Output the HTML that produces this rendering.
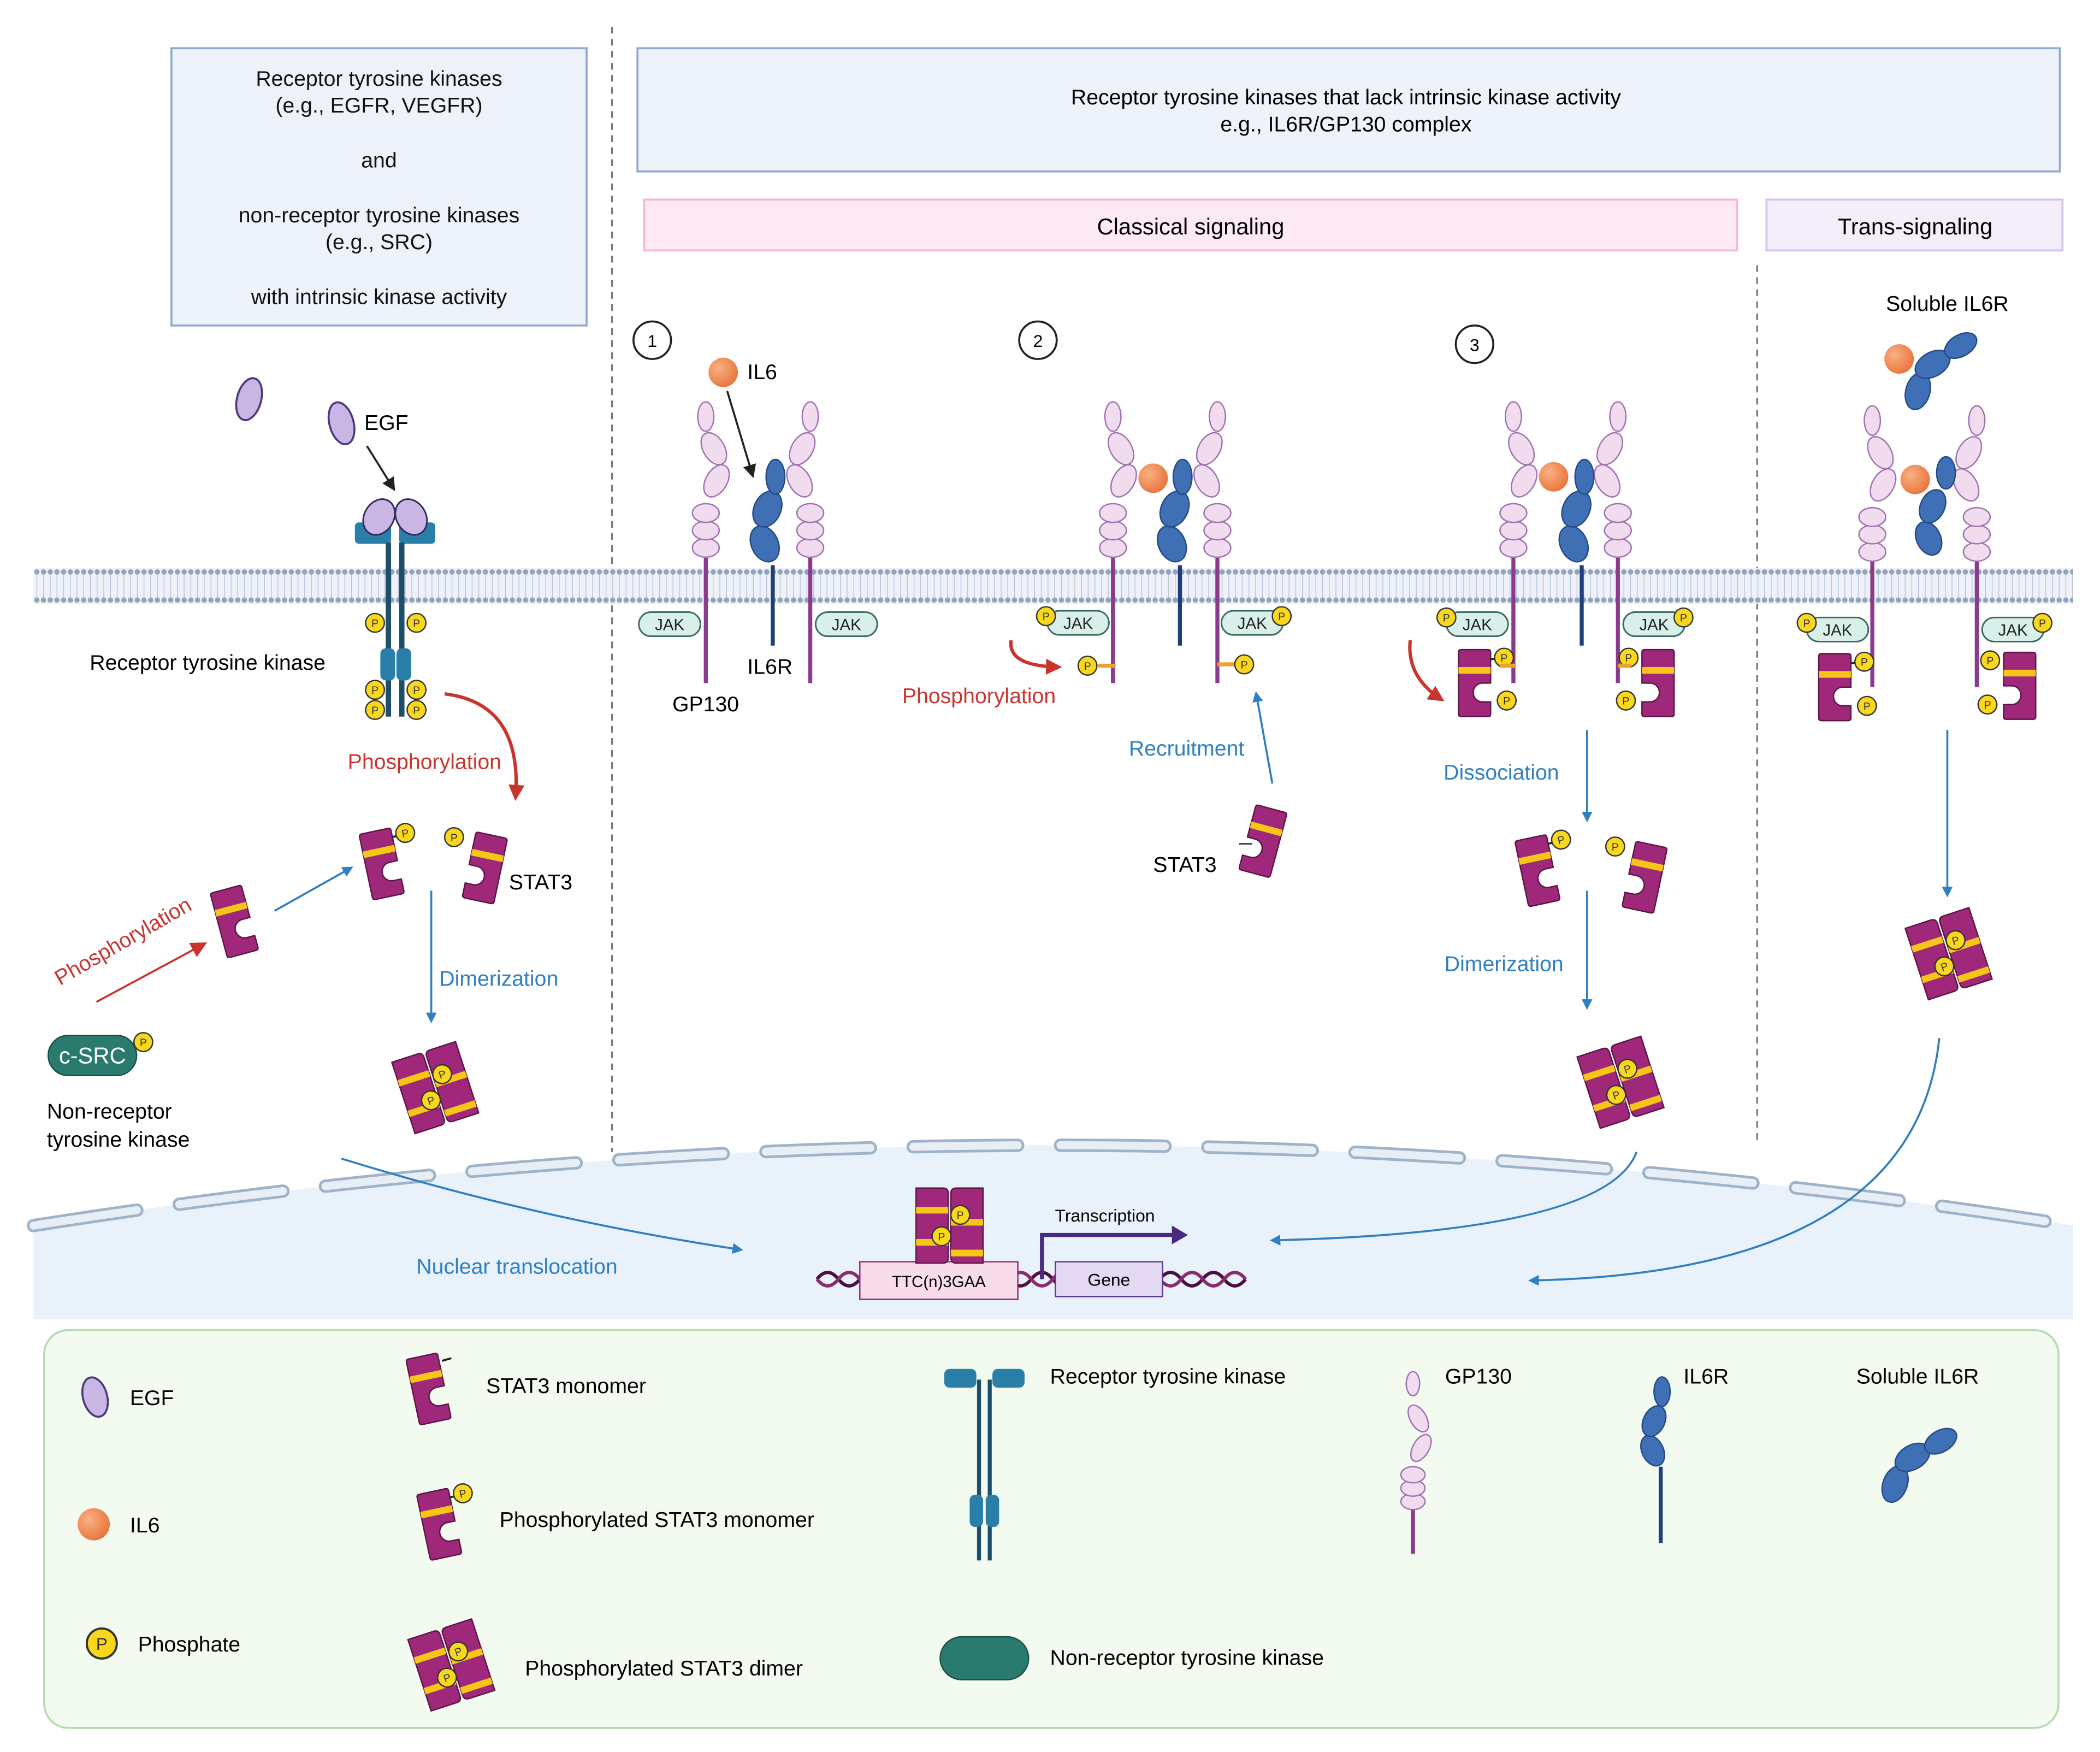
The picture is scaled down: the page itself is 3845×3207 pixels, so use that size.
<!DOCTYPE html>
<html><head><meta charset="utf-8"><style>
html,body{margin:0;padding:0;background:#fff}
svg{display:block}
text{font-family:"Liberation Sans",sans-serif}
</style></head><body>
<svg width="3845" height="3207" viewBox="0 0 1568 1308" preserveAspectRatio="none" xmlns="http://www.w3.org/2000/svg">
<defs>
<pattern id="mem" x="0" y="424" width="5" height="27" patternUnits="userSpaceOnUse">
<rect width="5" height="27" fill="#eef2f8"/>
<line x1="2.5" y1="4" x2="2.5" y2="23" stroke="#b8c6da" stroke-width="0.6"/>
<circle cx="2.5" cy="3" r="2" fill="#93a3bb"/><circle cx="2.5" cy="24" r="2" fill="#93a3bb"/>
</pattern>
<radialGradient id="il6g" cx="0.35" cy="0.35" r="0.7"><stop offset="0" stop-color="#f9b183"/><stop offset="1" stop-color="#e9743c"/></radialGradient>
<marker id="ab" markerWidth="8" markerHeight="8" refX="6" refY="4" orient="auto" markerUnits="userSpaceOnUse"><path d="M0,0 L8,4 L0,8 Z" fill="#2f7fc1"/></marker>
<marker id="ar" markerWidth="12" markerHeight="12" refX="9" refY="6" orient="auto" markerUnits="userSpaceOnUse"><path d="M0,0 L12,6 L0,12 Z" fill="#c8352e"/></marker>
<marker id="ak" markerWidth="10" markerHeight="10" refX="8" refY="5" orient="auto" markerUnits="userSpaceOnUse"><path d="M0,0 L10,5 L0,10 Z" fill="#222"/></marker>
<g id="P"><circle r="7" fill="#f9d71c" stroke="#333" stroke-width="1"/><text y="3" font-size="8" text-anchor="middle" fill="#333">P</text></g>
<g id="mono"><path d="M-10,-25 H10 Q12,-25 12,-23 V0 H6 A7,7 0 0 0 6,14 H12 V23 Q12,25 10,25 H-10 Q-12,25 -12,23 V-23 Q-12,-25 -10,-25 Z" fill="#a0287a" stroke="#5a1545" stroke-width="1"/><rect x="-12" y="-12" width="24" height="5" fill="#f5c518"/></g>
<g id="pmono"><use href="#mono"/><line x1="12" y1="-18" x2="18" y2="-18" stroke="#222" stroke-width="1.5"/><use href="#P" x="22" y="-19"/></g>
<g id="dimer"><g transform="translate(-13,0)"><path d="M-12,-28 H8 Q12,-28 12,-24 V24 Q12,28 8,28 H-12 Z" fill="#a0287a" stroke="#5a1545"/><rect x="-12" y="-14" width="24" height="5" fill="#f5c518"/><rect x="-12" y="10" width="24" height="5" fill="#f5c518"/></g><g transform="translate(13,0)"><path d="M12,-28 H-8 Q-12,-28 -12,-24 V24 Q-12,28 -8,28 H12 Z" fill="#a0287a" stroke="#5a1545"/><rect x="-12" y="-5" width="24" height="5" fill="#f5c518"/><rect x="-12" y="18" width="24" height="5" fill="#f5c518"/></g><use href="#P" x="8" y="-8"/><use href="#P" x="-6" y="8"/></g>
<g id="gp"><line x1="0" y1="0" x2="0" y2="95" stroke="#8b3a8e" stroke-width="3"/><g fill="#f0dcee" stroke="#a070b0" stroke-width="1"><ellipse cx="0" cy="-6" rx="10" ry="7"/><ellipse cx="0" cy="-19" rx="10" ry="7"/><ellipse cx="0" cy="-32" rx="10" ry="7"/></g></g>
<g id="gpL" fill="#f0dcee" stroke="#a070b0" stroke-width="1"><ellipse cx="8" cy="-56" rx="8" ry="13" transform="rotate(30 8 -56)"/><ellipse cx="6" cy="-80" rx="8" ry="13" transform="rotate(-30 6 -80)"/><ellipse cx="0" cy="-104" rx="6" ry="11"/></g>
<g id="gpR" fill="#f0dcee" stroke="#a070b0" stroke-width="1"><ellipse cx="-8" cy="-56" rx="8" ry="13" transform="rotate(-30 -8 -56)"/><ellipse cx="-6" cy="-80" rx="8" ry="13" transform="rotate(30 -6 -80)"/><ellipse cx="0" cy="-104" rx="6" ry="11"/></g>
<g id="il6r"><line x1="0" y1="0" x2="0" y2="60" stroke="#1f3f7a" stroke-width="3"/><g fill="#3f6fb5" stroke="#234a86" stroke-width="1"><ellipse cx="-6" cy="-16" rx="10" ry="14" transform="rotate(-25 -6 -16)"/><ellipse cx="-4" cy="-42" rx="10" ry="14" transform="rotate(25 -4 -42)"/><ellipse cx="2" cy="-66" rx="7" ry="13"/></g></g>
<g id="jak"><rect x="-23" y="-9" width="46" height="18" rx="9" fill="#d8efea" stroke="#3a6d63" stroke-width="1.2"/><text y="4.5" font-size="12" text-anchor="middle" fill="#222">JAK</text></g>
</defs>

<rect x="128" y="36" width="310" height="207" fill="#eef3fb" stroke="#8fa8d0" stroke-width="1.5"/>
<g font-size="16" text-anchor="middle" fill="#111">
<text x="283" y="64">Receptor tyrosine kinases</text><text x="283" y="84">(e.g., EGFR, VEGFR)</text>
<text x="283" y="125">and</text><text x="283" y="166">non-receptor tyrosine kinases</text><text x="283" y="186">(e.g., SRC)</text>
<text x="283" y="227">with intrinsic kinase activity</text>
</g>
<rect x="476" y="36" width="1062" height="92" fill="#eef3fb" stroke="#8fa8d0" stroke-width="1.5"/>
<text x="1005" y="78" font-size="16" text-anchor="middle">Receptor tyrosine kinases that lack intrinsic kinase activity</text>
<text x="1005" y="98" font-size="16" text-anchor="middle">e.g., IL6R/GP130 complex</text>
<rect x="481" y="149" width="816" height="38" fill="#fde9f3" stroke="#f2b8d5" stroke-width="1.5"/>
<text x="889" y="175" font-size="17" text-anchor="middle">Classical signaling</text>
<rect x="1319" y="149" width="221" height="38" fill="#f3eefa" stroke="#d3c3ea" stroke-width="1.5"/>
<text x="1430" y="175" font-size="17" text-anchor="middle">Trans-signaling</text>

<path d="M25,915 Q787,795 1548,915 L1548,985 L25,985 Z" fill="#e9f1fa"/>
<path d="M25,915 Q787,795 1548,915" fill="none" stroke="#9fb3c8" stroke-width="10" stroke-dasharray="78 32" stroke-linecap="round"/>
<path d="M25,915 Q787,795 1548,915" fill="none" stroke="#e8eef5" stroke-width="6" stroke-dasharray="78 32" stroke-linecap="round"/>

<line x1="457" y1="20" x2="457" y2="860" stroke="#777" stroke-width="1.3" stroke-dasharray="5 4"/>
<line x1="1312" y1="198" x2="1312" y2="852" stroke="#777" stroke-width="1.3" stroke-dasharray="5 4"/>

<rect x="25" y="424" width="1523" height="27" fill="url(#mem)"/>

<ellipse cx="186" cy="298" rx="9" ry="16" fill="#c9b6e4" stroke="#4a3a7a" stroke-width="1.5" transform="rotate(15 186 298)"/>
<ellipse cx="255" cy="316" rx="9" ry="16" fill="#c9b6e4" stroke="#4a3a7a" stroke-width="1.5" transform="rotate(-15 255 316)"/>
<text x="272" y="321" font-size="16">EGF</text>
<line x1="274" y1="333" x2="294" y2="365" stroke="#222" stroke-width="1.5" marker-end="url(#ak)"/>
<rect x="265" y="390" width="27" height="16" rx="3" fill="#2a7fa8"/><rect x="298" y="390" width="27" height="16" rx="3" fill="#2a7fa8"/>
<ellipse cx="283" cy="386" rx="11" ry="14" fill="#c9b6e4" stroke="#2e2a5a" stroke-width="1.2" transform="rotate(30 283 386)"/>
<ellipse cx="307" cy="386" rx="11" ry="14" fill="#c9b6e4" stroke="#2e2a5a" stroke-width="1.2" transform="rotate(-30 307 386)"/>
<line x1="290" y1="405" x2="290" y2="535" stroke="#1d4f6a" stroke-width="4"/><line x1="300" y1="405" x2="300" y2="535" stroke="#1d4f6a" stroke-width="4"/>
<rect x="284" y="484" width="11" height="24" rx="4" fill="#2a7fa8"/><rect x="296" y="484" width="11" height="24" rx="4" fill="#2a7fa8"/>
<use href="#P" x="280" y="465"/><use href="#P" x="311" y="465"/><use href="#P" x="280" y="515"/><use href="#P" x="311" y="515"/><use href="#P" x="280" y="530"/><use href="#P" x="311" y="530"/>
<text x="67" y="500" font-size="16">Receptor tyrosine kinase</text>
<path d="M332,518 Q390,525 385,595" fill="none" stroke="#c8352e" stroke-width="2.5" marker-end="url(#ar)"/>
<text x="317" y="574" font-size="16" fill="#c8352e" text-anchor="middle">Phosphorylation</text>
<use href="#pmono" transform="translate(285,645) rotate(-12)"/>
<use href="#mono" transform="translate(362,648) scale(-1,1) rotate(-12)"/><use href="#P" x="339" y="625"/>
<text x="380" y="664" font-size="16">STAT3</text>
<use href="#mono" transform="translate(175,688) rotate(-15)"/>
<line x1="205" y1="680" x2="262" y2="648" stroke="#2f7fc1" stroke-width="1.5" marker-end="url(#ab)"/>
<line x1="72" y1="748" x2="152" y2="705" stroke="#c8352e" stroke-width="1.5" marker-end="url(#ar)"/>
<text x="92" y="708" font-size="16" fill="#c8352e" text-anchor="middle" transform="rotate(-30 92 703)">Phosphorylation</text>
<line x1="322" y1="665" x2="322" y2="762" stroke="#2f7fc1" stroke-width="1.5" marker-end="url(#ab)"/>
<text x="328" y="736" font-size="16" fill="#2f7fc1">Dimerization</text>
<use href="#dimer" transform="translate(325,812) rotate(-18)"/>
<rect x="36" y="773" width="66" height="30" rx="15" fill="#2a7a6e" stroke="#1c4f47"/>
<text x="69" y="794" font-size="17" fill="#fff" text-anchor="middle">c-SRC</text>
<use href="#P" x="107" y="778"/>
<text x="35" y="835" font-size="16">Non-receptor</text><text x="35" y="856" font-size="16">tyrosine kinase</text>

<circle cx="487" cy="254" r="14" fill="#fff" stroke="#222" stroke-width="1.5"/><text x="487" y="259" font-size="13" text-anchor="middle">1</text>
<circle cx="540" cy="278" r="11" fill="url(#il6g)"/><text x="558" y="283" font-size="16">IL6</text>
<line x1="543" y1="292" x2="562" y2="355" stroke="#222" stroke-width="1.5" marker-end="url(#ak)"/>
<use href="#gp" x="527" y="415"/><use href="#gpL" x="527" y="415"/>
<use href="#gp" x="605" y="415"/><use href="#gpR" x="605" y="415"/>
<use href="#il6r" x="577" y="422"/>
<use href="#jak" x="500" y="466"/><use href="#jak" x="632" y="466"/>
<text x="558" y="503" font-size="16">IL6R</text><text x="502" y="531" font-size="16">GP130</text>

<circle cx="775" cy="254" r="14" fill="#fff" stroke="#222" stroke-width="1.5"/><text x="775" y="259" font-size="13" text-anchor="middle">2</text>
<use href="#gp" x="831" y="415"/><use href="#gpL" x="831" y="415"/>
<use href="#gp" x="909" y="415"/><use href="#gpR" x="909" y="415"/>
<use href="#il6r" x="881" y="422"/>
<circle cx="861" cy="357" r="11" fill="url(#il6g)"/>
<use href="#jak" x="805" y="465"/><use href="#P" x="781" y="460"/>
<use href="#jak" x="935" y="465"/><use href="#P" x="957" y="460"/>
<line x1="820" y1="497" x2="833" y2="497" stroke="#f0a030" stroke-width="3"/><use href="#P" x="812" y="497"/>
<line x1="909" y1="496" x2="922" y2="496" stroke="#f0a030" stroke-width="3"/><use href="#P" x="929" y="496"/>
<path d="M755,478 Q752,497 790,498" fill="none" stroke="#c8352e" stroke-width="2.5" marker-end="url(#ar)"/>
<text x="731" y="525" font-size="16" fill="#c8352e" text-anchor="middle">Phosphorylation</text>
<line x1="950" y1="585" x2="938" y2="518" stroke="#2f7fc1" stroke-width="1.5" marker-end="url(#ab)"/>
<text x="886" y="564" font-size="16" fill="#2f7fc1" text-anchor="middle">Recruitment</text>
<use href="#mono" transform="translate(943,628) scale(-1,1) rotate(-15)"/>
<line x1="925" y1="630" x2="935" y2="630" stroke="#222"/>
<text x="861" y="651" font-size="16">STAT3</text>

<circle cx="1101" cy="257" r="14" fill="#fff" stroke="#222" stroke-width="1.5"/><text x="1101" y="262" font-size="13" text-anchor="middle">3</text>
<use href="#gp" x="1130" y="415"/><use href="#gpL" x="1130" y="415"/>
<use href="#gp" x="1208" y="415"/><use href="#gpR" x="1208" y="415"/>
<use href="#il6r" x="1181" y="422"/>
<circle cx="1160" cy="356" r="11" fill="url(#il6g)"/>
<use href="#jak" x="1103" y="466"/><use href="#P" x="1080" y="461"/>
<use href="#jak" x="1235" y="466"/><use href="#P" x="1257" y="461"/>
<use href="#pmono" transform="translate(1101,510)"/><use href="#P" x="1125" y="523"/>
<line x1="1120" y1="497" x2="1132" y2="497" stroke="#f0a030" stroke-width="3"/>
<use href="#mono" transform="translate(1238,510) scale(-1,1)"/><use href="#P" x="1216" y="491"/><use href="#P" x="1214" y="523"/>
<line x1="1208" y1="497" x2="1218" y2="497" stroke="#f0a030" stroke-width="3"/>
<path d="M1053,478 Q1050,505 1076,522" fill="none" stroke="#c8352e" stroke-width="2.5" marker-end="url(#ar)"/>
<line x1="1185" y1="545" x2="1185" y2="612" stroke="#2f7fc1" stroke-width="1.5" marker-end="url(#ab)"/>
<text x="1121" y="582" font-size="16" fill="#2f7fc1" text-anchor="middle">Dissociation</text>
<use href="#pmono" transform="translate(1148,650) rotate(-12)"/>
<use href="#mono" transform="translate(1228,655) scale(-1,1) rotate(-12)"/><use href="#P" x="1206" y="632"/>
<line x1="1185" y1="665" x2="1185" y2="752" stroke="#2f7fc1" stroke-width="1.5" marker-end="url(#ab)"/>
<text x="1123" y="725" font-size="16" fill="#2f7fc1" text-anchor="middle">Dimerization</text>
<use href="#dimer" transform="translate(1210,808) rotate(-18)"/>

<text x="1454" y="232" font-size="16" text-anchor="middle">Soluble IL6R</text>
<g fill="#3f6fb5" stroke="#234a86"><ellipse cx="1432" cy="292" rx="9" ry="14" transform="rotate(15 1432 292)"/><ellipse cx="1443" cy="272" rx="9" ry="14" transform="rotate(60 1443 272)"/><ellipse cx="1464" cy="258" rx="8" ry="13" transform="rotate(60 1464 258)"/></g>
<circle cx="1418" cy="268" r="11" fill="url(#il6g)"/>
<use href="#gp" x="1398" y="418"/><use href="#gpL" x="1398" y="418"/>
<use href="#gp" x="1476" y="418"/><use href="#gpR" x="1476" y="418"/>
<g fill="#3f6fb5" stroke="#234a86"><ellipse cx="1440" cy="402" rx="9" ry="13" transform="rotate(-25 1440 402)"/><ellipse cx="1443" cy="378" rx="9" ry="13" transform="rotate(25 1443 378)"/><ellipse cx="1453" cy="353" rx="7" ry="12"/></g>
<circle cx="1430" cy="358" r="11" fill="url(#il6g)"/>
<use href="#jak" x="1372" y="470"/><use href="#P" x="1349" y="465"/>
<use href="#jak" x="1503" y="470"/><use href="#P" x="1525" y="465"/>
<use href="#pmono" transform="translate(1370,513)"/><use href="#P" x="1394" y="527"/>
<use href="#mono" transform="translate(1508,512) scale(-1,1)"/><use href="#P" x="1486" y="493"/><use href="#P" x="1484" y="526"/>
<line x1="1454" y1="545" x2="1454" y2="668" stroke="#2f7fc1" stroke-width="1.5" marker-end="url(#ab)"/>
<use href="#dimer" transform="translate(1455,712) rotate(-18)"/>

<path d="M255,865 Q400,910 553,933" fill="none" stroke="#2f7fc1" stroke-width="1.5" marker-end="url(#ab)"/>
<text x="386" y="951" font-size="16" fill="#2f7fc1" text-anchor="middle">Nuclear translocation</text>
<path d="M1222,860 Q1200,920 950,926" fill="none" stroke="#2f7fc1" stroke-width="1.5" marker-end="url(#ab)"/>
<path d="M1448,775 Q1430,950 1143,956" fill="none" stroke="#2f7fc1" stroke-width="1.5" marker-end="url(#ab)"/>

<path d="M610,955 q8,-10 16,0 t16,0 t16,0 t16,0 t16,0 t16,0 t16,0 t16,0 t16,0 t16,0 t16,0 t16,0 t16,0 t16,0 t16,0 t16,0 t16,0 t16,0 t16,0 t16,0" fill="none" stroke="#4a1040" stroke-width="2.5"/>
<path d="M610,955 q8,10 16,0 t16,0 t16,0 t16,0 t16,0 t16,0 t16,0 t16,0 t16,0 t16,0 t16,0 t16,0 t16,0 t16,0 t16,0 t16,0 t16,0 t16,0 t16,0 t16,0" fill="none" stroke="#8b2a70" stroke-width="2.5"/>
<rect x="642" y="942" width="118" height="28" fill="#f8dcea" stroke="#8b2a70"/>
<text x="701" y="961" font-size="12" text-anchor="middle">TTC(n)3GAA</text>
<rect x="788" y="942" width="80" height="26" fill="#e3d9f3" stroke="#5a3a8a"/>
<text x="828" y="960" font-size="13" text-anchor="middle">Gene</text>
<path d="M778,955 V922 H880" fill="none" stroke="#4a2a80" stroke-width="3"/>
<path d="M875,915 L887,922 L875,929 Z" fill="#4a2a80"/>
<text x="825" y="912" font-size="13" text-anchor="middle">Transcription</text>
<use href="#dimer" transform="translate(709,915)"/>

<rect x="33" y="993" width="1504" height="297" rx="18" fill="#f3faf0" stroke="#b5dcb0" stroke-width="1.5"/>
<ellipse cx="71" cy="1043" rx="9" ry="15" fill="#c9b6e4" stroke="#4a3a7a" stroke-width="1.5" transform="rotate(-15 71 1043)"/>
<text x="97" y="1049" font-size="16">EGF</text>
<circle cx="70" cy="1138" r="12" fill="url(#il6g)"/><text x="97" y="1144" font-size="16">IL6</text>
<g transform="translate(76,1227) scale(1.6)"><use href="#P"/></g><text x="103" y="1233" font-size="16">Phosphate</text>
<use href="#mono" transform="translate(320,1037) rotate(-12)"/><line x1="330" y1="1016" x2="337" y2="1014" stroke="#222" stroke-width="1.5"/>
<text x="363" y="1040" font-size="16">STAT3 monomer</text>
<use href="#pmono" transform="translate(328,1138) rotate(-12)"/>
<text x="373" y="1140" font-size="16">Phosphorylated STAT3 monomer</text>
<use href="#dimer" transform="translate(337,1243) rotate(-18)"/>
<text x="392" y="1251" font-size="16">Phosphorylated STAT3 dimer</text>
<g transform="translate(735,1020)">
<rect x="-30" y="2" width="24" height="14" rx="4" fill="#2a7fa8"/><rect x="6" y="2" width="24" height="14" rx="4" fill="#2a7fa8"/>
<line x1="-4" y1="10" x2="-4" y2="145" stroke="#1d4f6a" stroke-width="3"/><line x1="4" y1="10" x2="4" y2="145" stroke="#1d4f6a" stroke-width="3"/>
<rect x="-11" y="96" width="10" height="24" rx="4" fill="#2a7fa8"/><rect x="1" y="96" width="10" height="24" rx="4" fill="#2a7fa8"/></g>
<text x="784" y="1033" font-size="16">Receptor tyrosine kinase</text>
<rect x="702" y="1222" width="66" height="32" rx="16" fill="#2a7a6e" stroke="#1c4f47"/>
<text x="784" y="1243" font-size="16">Non-receptor tyrosine kinase</text>
<g transform="translate(1055,1125)"><line x1="0" y1="0" x2="0" y2="35" stroke="#8b3a8e" stroke-width="3"/>
<g fill="#f0dcee" stroke="#a070b0"><ellipse cx="0" cy="-4" rx="9" ry="6"/><ellipse cx="0" cy="-14" rx="9" ry="6"/><ellipse cx="0" cy="-24" rx="9" ry="6"/>
<ellipse cx="6" cy="-44" rx="6" ry="11" transform="rotate(30 6 -44)"/><ellipse cx="4" cy="-66" rx="6" ry="11" transform="rotate(-30 4 -66)"/><ellipse cx="0" cy="-92" rx="5" ry="9"/></g></g>
<text x="1079" y="1033" font-size="16">GP130</text>
<g transform="translate(1240,1095)"><line x1="0" y1="0" x2="0" y2="57" stroke="#1f3f7a" stroke-width="3"/>
<g fill="#3f6fb5" stroke="#234a86"><ellipse cx="-6" cy="-12" rx="8" ry="12" transform="rotate(-25 -6 -12)"/><ellipse cx="-5" cy="-34" rx="8" ry="12" transform="rotate(25 -5 -34)"/><ellipse cx="1" cy="-56" rx="6" ry="11"/></g></g>
<text x="1257" y="1033" font-size="16">IL6R</text>
<text x="1386" y="1033" font-size="16">Soluble IL6R</text>
<g fill="#3f6fb5" stroke="#234a86"><ellipse cx="1415" cy="1108" rx="9" ry="14" transform="rotate(20 1415 1108)"/><ellipse cx="1428" cy="1088" rx="9" ry="14" transform="rotate(60 1428 1088)"/><ellipse cx="1449" cy="1076" rx="8" ry="13" transform="rotate(60 1449 1076)"/></g>
</svg>
</body></html>
